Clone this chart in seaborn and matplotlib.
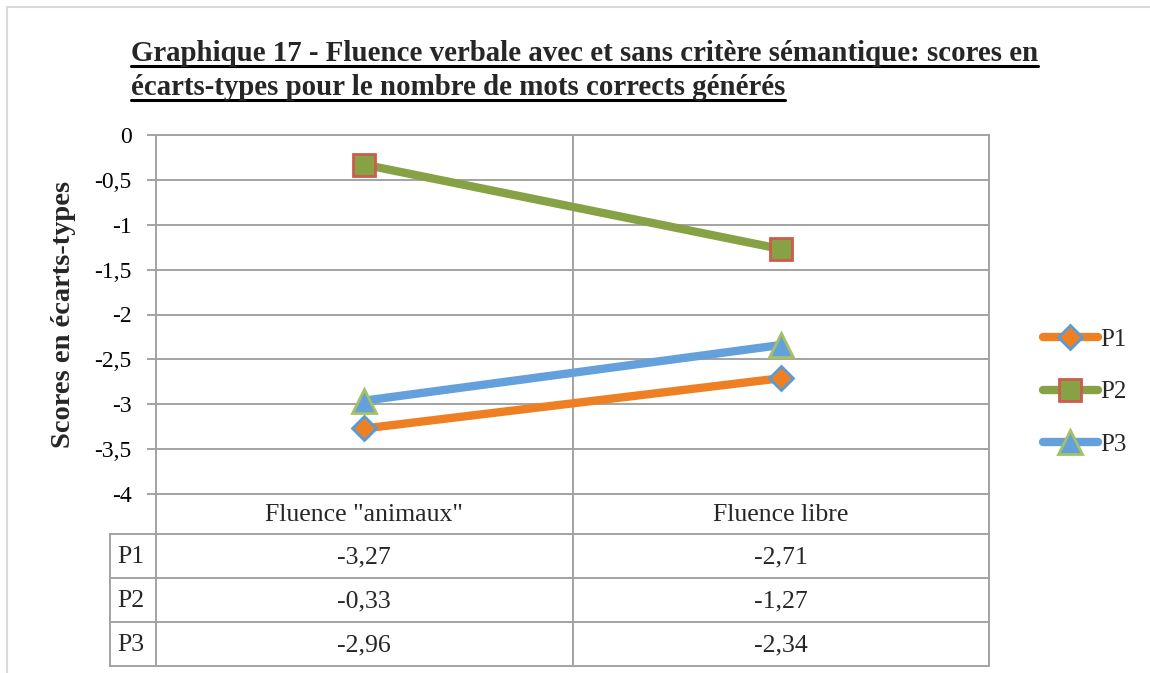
import matplotlib
matplotlib.use("Agg")
import matplotlib.pyplot as plt
from matplotlib.lines import Line2D
from matplotlib.patches import Rectangle
import matplotlib.transforms as mtransforms
import pandas as pd
import seaborn as sns

# données du graphique
categories = ['Fluence "animaux"', "Fluence libre"]
participants = ["P1", "P2", "P3"]
p1_scores = [-3.27, -2.71]
p2_scores = [-0.33, -1.27]
p3_scores = [-2.96, -2.34]
y_ticks = [0, -0.5, -1, -1.5, -2, -2.5, -3, -3.5, -4]
title_lines = ["Graphique 17 - Fluence verbale avec et sans critère sémantique: scores en",
               "écarts-types pour le nombre de mots corrects générés"]
y_label = "Scores en écarts-types"

# styles
line_colors = {"P1": "#EE7F22", "P2": "#87A145", "P3": "#64A0DC"}
edge_colors = {"P1": "#5B9BD5", "P2": "#CD5B4E", "P3": "#A4C263"}
markers = {"P1": "D", "P2": "s", "P3": "^"}
marker_sizes = {"P1": 12.5, "P2": 15.5, "P3": 17.5}
grid_color = "#A3A3A3"
W, H = 1150, 673

sns.set_theme(style="white")
plt.rcParams["font.family"] = ["Liberation Serif", "DejaVu Serif"]

df = pd.DataFrame({
    "Fluence": categories * 3,
    "Score": p1_scores + p2_scores + p3_scores,
    "Participant": [p for p in participants for _ in categories],
})

fig = plt.figure(figsize=(W / 100, H / 100), dpi=100)
fig.patch.set_facecolor("white")


def fy(py):  # pixel (depuis le haut) -> fraction figure
    return 1 - py / H


ax_left, ax_right, ax_top, ax_bottom = 156, 989, 135, 494
ax = fig.add_axes([ax_left / W, fy(ax_bottom), (ax_right - ax_left) / W, (ax_bottom - ax_top) / H])

sns.lineplot(data=df, x="Fluence", y="Score", hue="Participant", style="Participant",
             markers=markers, dashes=False, palette=line_colors, linewidth=6,
             sort=False, legend=False, ax=ax)

for line, name in zip(ax.lines, participants):
    line.set_markerfacecolor(line_colors[name])
    line.set_markeredgecolor(edge_colors[name])
    line.set_markeredgewidth(2)
    line.set_markersize(marker_sizes[name])
    line.set_solid_capstyle("round")
    line.set_label(name)
    line.set_zorder(3)

ax.set_xlim(-0.5, len(categories) - 0.5)
ax.set_ylim(-4, 0)
ax.set_yticks(y_ticks)
ax.set_yticklabels([("%g" % v).replace(".", ",") for v in y_ticks], fontsize=17)
ax.set_xticks([])
ax.set_xlabel("")
ax.set_ylabel("")
ax.yaxis.grid(True, color=grid_color, linewidth=1.4)
for i in range(len(categories) - 1):
    ax.axvline(i + 0.5, color=grid_color, linewidth=1.4, zorder=1)
for sp in ax.spines.values():
    sp.set_visible(True)
    sp.set_color(grid_color)
    sp.set_linewidth(1.4)
ax.tick_params(axis="y", which="major", left=True, direction="out", length=6.5,
               width=1.4, color=grid_color, pad=11, labelcolor="black")

# légende
ax.legend(handles=ax.lines[:3], labels=participants, loc="center left",
          bbox_to_anchor=(1030 / W, fy(392)), bbox_transform=fig.transFigure,
          frameon=False, fontsize=18, handlelength=2.2, handletextpad=0.12,
          labelspacing=1.2, borderpad=0, numpoints=1)

# titre des axes
fig.text(64 / W, fy((ax_top + ax_bottom) / 2), y_label, rotation=90, ha="center",
         va="center", fontsize=20.5, fontweight="bold")

# tableau de données
row_h = 44
head_bottom = 534
table_bottom = head_bottom + row_h * len(participants)
label_left = 110
tr = mtransforms.blended_transform_factory(ax.transData, fig.transFigure)
series = {"P1": p1_scores, "P2": p2_scores, "P3": p3_scores}

table_kw = dict(color=grid_color, linewidth=1.4, clip_on=False)
xs = [i - 0.5 for i in range(len(categories) + 1)]
for x in xs:
    fig.add_artist(Line2D([x, x], [fy(ax_bottom), fy(table_bottom)], transform=tr, **table_kw))
fig.add_artist(Line2D([label_left / W] * 2, [fy(head_bottom), fy(table_bottom)],
                      transform=fig.transFigure, **table_kw))
for k in range(len(participants) + 1):
    yy = fy(head_bottom + k * row_h)
    fig.add_artist(Line2D([label_left / W, ax_right / W], [yy, yy], transform=fig.transFigure, **table_kw))

for i, cat in enumerate(categories):
    fig.text(i, fy((ax_bottom + head_bottom) / 2 + 1), cat, transform=tr, ha="center",
             va="center", fontsize=18.5)
for k, name in enumerate(participants):
    yc = fy(head_bottom + k * row_h + row_h / 2 + 1)
    fig.text(117 / W, yc, name, ha="left", va="center", fontsize=18.5)
    for i, v in enumerate(series[name]):
        fig.text(i, yc, ("%.2f" % v).replace(".", ","), transform=tr, ha="center",
                 va="center", fontsize=18.5)

# titre souligné
title_texts = []
for j, txt in enumerate(title_lines):
    t = fig.text(131 / W, fy(61 + 34 * j), txt, ha="left", va="baseline",
                 fontsize=20.8, fontweight="bold")
    title_texts.append(t)

fig.canvas.draw()
renderer = fig.canvas.get_renderer()
for j, t in enumerate(title_texts):
    bb = t.get_window_extent(renderer)
    yy = fy(61 + 34 * j + 5)
    fig.add_artist(Line2D([bb.x0 / W, bb.x1 / W], [yy, yy], transform=fig.transFigure,
                          color="black", linewidth=2.2))

# cadre de la figure
fig.add_artist(Rectangle((7 / W, -0.01), 1.02, fy(7) + 0.01, transform=fig.transFigure,
                         fill=False, edgecolor="#D9D9D9", linewidth=1.5))

fig.savefig("out.png", dpi=100)
